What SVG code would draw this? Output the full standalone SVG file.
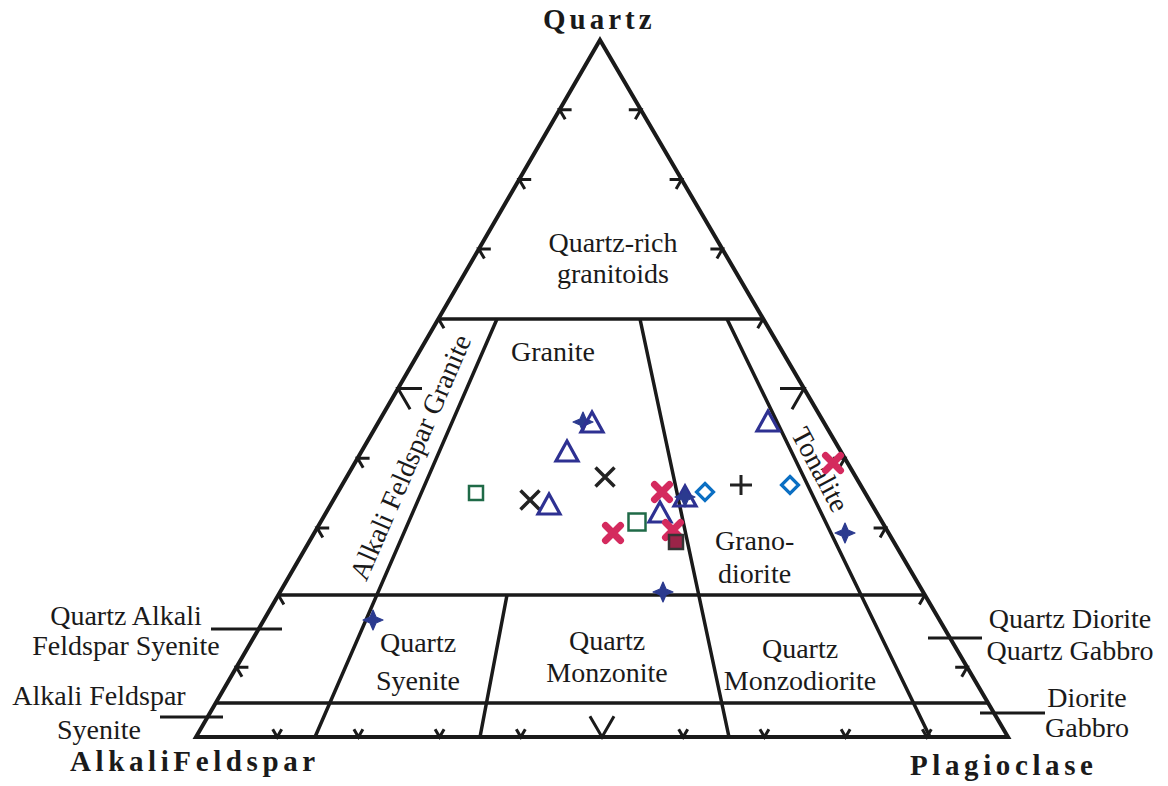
<svg xmlns="http://www.w3.org/2000/svg" width="1168" height="786" viewBox="0 0 1168 786">
<style>
.ln{fill:none;stroke:#1a1a1a;stroke-width:3.5;stroke-linejoin:miter}
.edge{fill:none;stroke:#1a1a1a;stroke-width:4;stroke-linejoin:miter}
.tk{fill:none;stroke:#1a1a1a;stroke-width:3;stroke-linejoin:miter}
.lb{font-family:"Liberation Serif","Times New Roman",serif;font-size:28px;fill:#1a1a1a}
.ttl{font-family:"Liberation Serif","Times New Roman",serif;font-size:29px;font-weight:bold;fill:#1a1a1a}
</style>
<defs>
<path id="tri" d="M0,-11 L11,9 L-11,9 Z" fill="none" stroke="#2e3192" stroke-width="3.2" stroke-linejoin="miter"/>
<path id="star" d="M0,-10 L3,-3 L10,0 L3,3 L0,10 L-3,3 L-10,0 L-3,-3 Z" fill="#2b3a8f" stroke="#2b3a8f" stroke-width="1.2" stroke-linejoin="round"/>
<path id="rx" d="M-7.5,-7.5 L7.5,7.5 M7.5,-7.5 L-7.5,7.5" fill="none" stroke="#d42a5e" stroke-width="7" stroke-linecap="round"/>
<path id="bx" d="M-9.5,-9.5 L9.5,9.5 M9.5,-9.5 L-9.5,9.5" fill="none" stroke="#222" stroke-width="3.5"/>
<path id="plus" d="M-11,0 H11 M0,-10 V10" fill="none" stroke="#222" stroke-width="3"/>
<path id="dia" d="M0,-8.5 L8.5,0 L0,8.5 L-8.5,0 Z" fill="none" stroke="#0b6fc3" stroke-width="3.2"/>
</defs>
<rect width="1168" height="786" fill="#ffffff"/>

<g id="frame">
<path class="edge" d="M600,40 L1008,737 L196,737 Z"/>
<path class="ln" d="M438.4,319 H763 M278.3,595 H924.9 M215.7,703 H988.1"/>
<path class="ln" d="M497,319 L315,737 M507,595 L480,737 M640,319 L729,737 M727,319 L930,737"/>
<path class="tk" d="M211,629 H282 M160,717 H223 M928,638 H982 M980,713 H1045"/>
</g>

<g id="ticks">
<path class="tk" d="M248.4,667.3 L236.4,667.3 L242,676.8 M278.3,595 L283.9,604.5 M329.2,527.9 L317.2,527.9 L322.8,537.4 M369.6,458.2 L357.6,458.2 L363.2,467.7 M422,388.5 L398,388.5 L410.1,409.2 M438.4,318.8 L444,328.3 M490.8,249.1 L478.8,249.1 L484.4,258.6 M531.2,179.4 L519.2,179.4 L524.8,188.9 M571.6,109.7 L559.6,109.7 L565.2,119.2"/>
<path class="tk" d="M955.2,667.3 L967.2,667.3 L961.7,676.8 M924.9,595 L919.4,604.5 M873.6,527.9 L885.6,527.9 L880.1,537.4 M832.8,458.2 L844.8,458.2 L839.3,467.7 M780,388.5 L804,388.5 L792,409.3 M763.2,318.8 L757.7,328.3 M710.4,249.1 L722.4,249.1 L716.9,258.6 M669.6,179.4 L681.6,179.4 L676.1,188.9 M628.8,109.7 L640.8,109.7 L635.3,119.2"/>
<path class="tk" d="M272.7,729.2 L277.2,737 L281.7,729.2 M353.9,729.2 L358.4,737 L362.9,729.2 M435.1,729.2 L439.6,737 L444.1,729.2 M516.3,729.2 L520.8,737 L525.3,729.2 M589.9,716.3 L602,737 L614,716.2 M678.7,729.2 L683.2,737 L687.7,729.2 M759.9,729.2 L764.4,737 L768.9,729.2 M841.1,729.2 L845.6,737 L850.1,729.2 M922.3,729.2 L926.8,737 L931.3,729.2"/>
</g>

<g id="titles">
<text class="ttl" x="543" y="29" letter-spacing="4">Quartz</text>
<text class="ttl" x="70" y="771" letter-spacing="4.6">AlkaliFeldspar</text>
<text class="ttl" x="910" y="775" letter-spacing="4.6">Plagioclase</text>
</g>

<g id="fields">
<text class="lb" x="613" y="252" text-anchor="middle">Quartz-rich</text>
<text class="lb" x="613" y="283" text-anchor="middle">granitoids</text>
<text class="lb" x="511" y="361">Granite</text>
<text class="lb" transform="translate(419,461) rotate(-66.5)" text-anchor="middle">Alkali Feldspar Granite</text>
<text class="lb" transform="translate(812,474) rotate(62)" text-anchor="middle">Tonalite</text>
<text class="lb" x="715" y="550">Grano-</text>
<text class="lb" x="718" y="583">diorite</text>
<text class="lb" x="418" y="652" text-anchor="middle">Quartz</text>
<text class="lb" x="418" y="690" text-anchor="middle">Syenite</text>
<text class="lb" x="607" y="650" text-anchor="middle">Quartz</text>
<text class="lb" x="607" y="682" text-anchor="middle">Monzonite</text>
<text class="lb" x="800" y="658" text-anchor="middle">Quartz</text>
<text class="lb" x="800" y="690" text-anchor="middle">Monzodiorite</text>
</g>

<g id="side-labels">
<text class="lb" x="126" y="625" text-anchor="middle">Quartz Alkali</text>
<text class="lb" x="126" y="655" text-anchor="middle">Feldspar Syenite</text>
<text class="lb" x="99" y="705" text-anchor="middle">Alkali Feldspar</text>
<text class="lb" x="99" y="739" text-anchor="middle">Syenite</text>
<text class="lb" x="1070" y="628" text-anchor="middle">Quartz Diorite</text>
<text class="lb" x="1070" y="660" text-anchor="middle">Quartz Gabbro</text>
<text class="lb" x="1087" y="707" text-anchor="middle">Diorite</text>
<text class="lb" x="1087" y="737" text-anchor="middle">Gabbro</text>
</g>

<g id="data">
<use href="#star" x="583" y="422"/>
<use href="#tri" x="592" y="423"/>
<use href="#tri" x="567" y="452"/>
<use href="#bx" x="605" y="477"/>
<rect x="469" y="486" width="14" height="14" fill="none" stroke="#1f6a47" stroke-width="2.5"/>
<use href="#bx" x="530" y="500"/>
<use href="#tri" x="549" y="505"/>
<use href="#rx" x="662" y="492"/>
<use href="#tri" x="685" y="497"/>
<use href="#star" x="685" y="497"/>
<use href="#dia" x="705" y="492"/>
<use href="#plus" x="741" y="485"/>
<rect x="628.5" y="513.5" width="17" height="17" fill="none" stroke="#1f6a47" stroke-width="2.5"/>
<use href="#tri" x="660" y="513"/>
<use href="#rx" x="613" y="533"/>
<use href="#rx" x="673" y="530"/>
<rect x="669" y="535" width="14" height="14" fill="#9a2448" stroke="#333" stroke-width="2.5"/>
<use href="#star" x="663" y="592"/>
<use href="#star" x="373" y="620"/>
<use href="#tri" x="768" y="422"/>
<use href="#dia" x="790" y="485"/>
<use href="#rx" x="833" y="463"/>
<use href="#star" x="845" y="533"/>
</g>
</svg>
